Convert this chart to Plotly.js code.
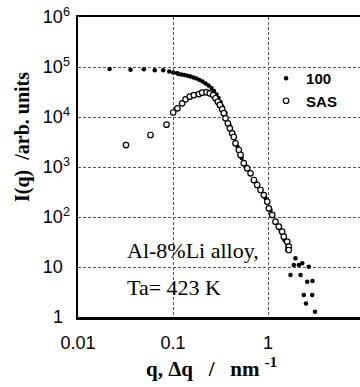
<!DOCTYPE html>
<html>
<head>
<meta charset="utf-8">
<script src="https://cdn.plot.ly/plotly-3.0.1.min.js"></script>
<style>
html,body{margin:0;padding:0;overflow:hidden;background:#fff;}
#chart{width:363px;height:387px;}
</style>
</head>
<body>
<div id="chart"></div>
<script>
// Series "100" (filled dots): q in nm^-1, intensity in arb. units
var q100 = [0.0215,0.0357,0.0493,0.0643,0.0789,0.0912,0.1005,0.1107,
  0.1143,0.1228,0.1321,0.1421,0.1528,0.1643,0.1767,0.1901,0.2044,0.2199,0.2365,0.2543,
  0.2702,0.2871,0.3013,0.3162,0.3318,0.3569,0.3936,0.4340,0.4786,0.5278,0.5820,0.6549,
  0.7373,0.8337,0.9418,1.062,1.199,1.355,1.493,1.604,
  1.592,1.946,1.869,2.110,2.291,2.688,1.725,2.198,2.586,2.94,2.383,2.917,2.512,3.126];
var i100 = [9.1e4,8.8e4,9.0e4,8.6e4,8.6e4,8.1e4,7.8e4,7.5e4,
  7.24e4,7.08e4,6.92e4,6.67e4,6.46e4,6.17e4,5.89e4,5.50e4,5.13e4,4.68e4,4.27e4,3.80e4,
  3.31e4,2.82e4,2.40e4,2.00e4,1.62e4,1.20e4,6.92e3,4.37e3,2.51e3,1.51e3,1.05e3,724,
  501,347,240,138,83.2,55.0,34.7,25.1,
  21.9,14.9,11.0,11.0,11.9,10.1,6.92,6.92,5.08,5.25,2.75,2.75,1.86,1.28];

// Series "SAS" (open circles)
var qSAS = [0.0320,0.0579,0.0855,0.1005,0.1114,0.1250,0.1355,0.1503,0.1656,0.1871,
  0.2028,0.2254,0.2438,0.2649,0.2800,0.2965,0.3112,0.3297,0.3428,0.3573,0.3776,0.3963,
  0.4198,0.4365,0.4550,0.4932,0.5140,0.5559,0.6039,0.6549,0.7103,0.7691,0.8337,0.9036,
  0.9817,1.019,1.107,1.199,1.300,1.410,1.466,1.592,1.656,1.656];
var iSAS = [2.75e3,4.37e3,7.02e3,1.23e4,1.49e4,1.88e4,2.26e4,2.55e4,2.75e4,2.88e4,
  3.06e4,3.12e4,2.98e4,2.75e4,2.37e4,2.02e4,1.74e4,1.43e4,1.19e4,9.42e3,7.48e3,5.94e3,
  4.72e3,3.98e3,2.98e3,2.19e3,1.74e3,1.19e3,942,748,550,437,347,275,
  202,149,110,80.5,64.0,50.8,40.4,32.1,25.5,21.9];

var yTickVals = [1,10,100,1000,10000,100000,1000000];
var yTickText = ['1<sup>\u00a0\u00a0</sup>','10<sup>\u00a0\u00a0</sup>','10<sup>2</sup>','10<sup>3</sup>','10<sup>4</sup>','10<sup>5</sup>','10<sup>6</sup>'];
var xTickVals = [0.01,0.1,1];
var xTickText = ['0.01','0.1','1'];
var seriesNames = ['100','SAS'];
var noteLines = ['Al-8%Li alloy,','Ta= 423 K'];

var sans = 'Liberation Sans, Arial, sans-serif';
var serif = 'Liberation Serif, Times New Roman, serif';

var traces = [
  {x:q100, y:i100, type:'scatter', mode:'markers', name:seriesNames[0],
   marker:{symbol:'circle', size:4.5, color:'#000'}},
  {x:qSAS, y:iSAS, type:'scatter', mode:'markers', name:seriesNames[1],
   marker:{symbol:'circle', size:5.5, color:'#fff', line:{color:'#000', width:1.2}}}
];

var gridStyle = {gridcolor:'#555', gridwidth:1, griddash:'3px,2px'};

var layout = {
  width:363, height:387,
  margin:{l:78, r:0, t:17, b:70},
  paper_bgcolor:'#fff', plot_bgcolor:'#fff',
  showlegend:true,
  legend:{x:0.66, y:0.85, xanchor:'left', yanchor:'top', bgcolor:'rgba(0,0,0,0)',
    font:{family:sans, size:15, color:'#000', weight:'bold'}, tracegroupgap:0},
  xaxis:Object.assign({type:'log', range:[-2,1], tickvals:xTickVals, ticktext:xTickText,
    ticks:'', showline:true, linecolor:'#000', linewidth:2.5, mirror:true,
    tickfont:{family:sans, size:18, color:'#000'}, ticklabelstandoff:8, zeroline:false}, gridStyle),
  yaxis:Object.assign({type:'log', range:[0,6], tickvals:yTickVals, ticktext:yTickText,
    ticks:'', showline:true, linecolor:'#000', linewidth:2.5, mirror:true,
    tickfont:{family:sans, size:18, color:'#000'}, ticklabelstandoff:2, zeroline:false}, gridStyle),
  shapes:[{type:'rect', xref:'paper', yref:'paper', x0:0.147, x1:0.691, y0:0.05, y1:0.283,
    fillcolor:'#fff', line:{width:0}, layer:'between'}],
  annotations:[
    {xref:'paper', yref:'paper', x:-0.1965, y:0.6, xanchor:'center', yanchor:'middle',
     textangle:-90, showarrow:false, text:'<b>I(q)  /arb. units</b>',
     font:{family:serif, size:20, color:'#000'}},
    {xref:'paper', yref:'paper', x:0.467, y:-0.168, xanchor:'center', yanchor:'middle',
     showarrow:false, text:'<b>q, \u0394q  \u00a0/ \u00a0\u00a0nm <sup>-1</sup></b>',
     font:{family:serif, size:21, color:'#000'}},
    {xref:'paper', yref:'paper', x:0.165, y:0.2233, xanchor:'left', yanchor:'middle',
     showarrow:false, text:noteLines[0], font:{family:serif, size:22, color:'#000'}},
    {xref:'paper', yref:'paper', x:0.165, y:0.1, xanchor:'left', yanchor:'middle',
     showarrow:false, text:noteLines[1], font:{family:serif, size:22, color:'#000'}}
  ]
};

Plotly.newPlot('chart', traces, layout, {displayModeBar:false, staticPlot:true});
</script>
</body>
</html>
